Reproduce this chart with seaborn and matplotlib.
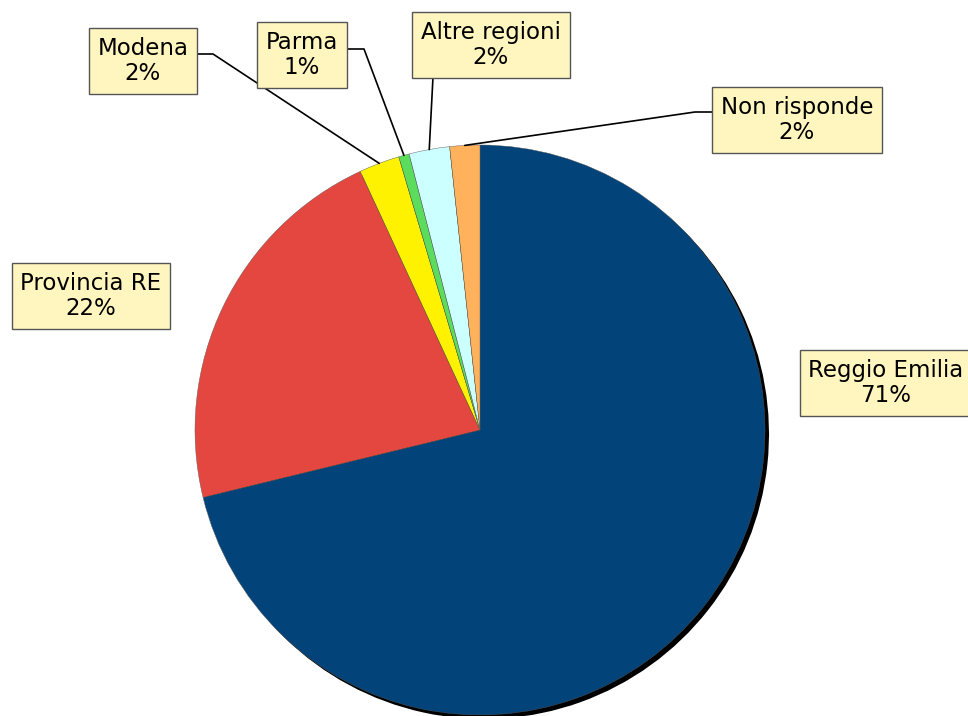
import numpy as np
import matplotlib
matplotlib.use("Agg")
import matplotlib.pyplot as plt
import seaborn as sns

# Share of respondents by place of residence
labels = ["Reggio Emilia", "Provincia RE", "Modena", "Parma", "Altre regioni", "Non risponde"]
shares = [71.2, 21.9, 2.3, 0.6, 2.3, 1.7]
pct_text = ["71%", "22%", "2%", "1%", "2%", "2%"]
colors = ["#02437A", "#E4473F", "#FFF200", "#5CDC5C", "#CCFFFF", "#FFB25B"]

# Layout in image pixels (x right, y down)
W, H = 968, 716
center_px = (480, 430)
radius_px = 285
box_pos = {
    "Reggio Emilia": (886, 383),
    "Provincia RE": (91, 296),
    "Modena": (143, 61),
    "Parma": (302, 55),
    "Altre regioni": (491, 45),
    "Non risponde": (797, 120),
}
# elbow of each leader line (None = no line)
elbows = {
    "Modena": [(143, 54), (213, 54)],
    "Parma": [(302, 49), (364, 49)],
    "Altre regioni": [(433, 44), (433, 77)],
    "Non risponde": [(797, 112), (695, 112)],
}


def to_data(p):
    return p[0], H - p[1]


sns.set_style("white")
plt.rcParams["font.family"] = ["DejaVu Sans"]

fig = plt.figure(figsize=(W / 100, H / 100), dpi=100)
ax = fig.add_axes([0, 0, 1, 1])

cx, cy = to_data(center_px)

# shadow: same pie in black, shifted
ax.pie(shares, colors=["black"] * len(shares), center=(cx + 4, cy - 4),
       radius=radius_px, startangle=90, counterclock=False,
       wedgeprops=dict(linewidth=0), frame=True)

wedges, _ = ax.pie(shares, colors=colors, center=(cx, cy), radius=radius_px,
                   startangle=90, counterclock=False,
                   wedgeprops=dict(edgecolor="#555555", linewidth=0.3), frame=True)

ax.set_xlim(0, W)
ax.set_ylim(0, H)
ax.set_aspect("equal")
ax.axis("off")

for w, lab, pct in zip(wedges, labels, pct_text):
    if lab in elbows:
        mid = np.deg2rad((w.theta1 + w.theta2) / 2)
        tip = (cx + radius_px * np.cos(mid), cy + radius_px * np.sin(mid))
        pts = [to_data(p) for p in elbows[lab]] + [tip]
        xs, ys = zip(*pts)
        ax.plot(xs, ys, color="black", lw=1.2, zorder=3)
    bx, by = to_data(box_pos[lab])
    ax.text(bx, by, f"{lab}\n{pct}", ha="center", va="center", fontsize=16.5,
            linespacing=1.15, color="black", zorder=5,
            bbox=dict(boxstyle="square,pad=0.38", facecolor="#FFF6BF",
                      edgecolor="#555555", linewidth=1))

fig.savefig("out.png", dpi=100)
